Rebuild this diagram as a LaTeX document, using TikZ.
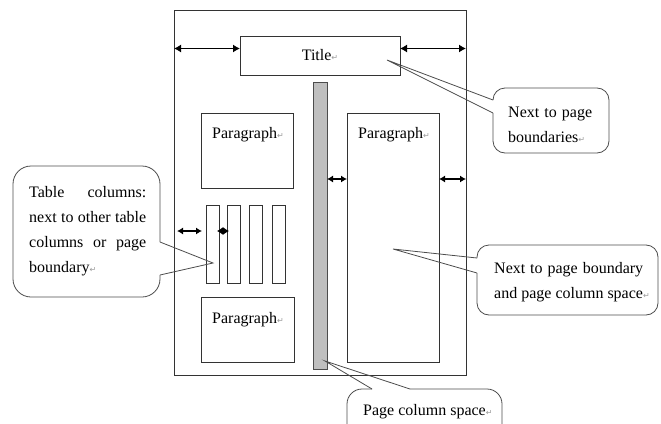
\documentclass[tikz,border=0pt]{standalone}
\usepackage{fontspec}
\setmainfont{Liberation Serif}
\newfontfamily\marksymfont{DejaVu Sans}
\usetikzlibrary{arrows.meta}
% small grey paragraph mark
\newcommand{\pmark}{{\marksymfont\fontsize{8}{8}\selectfont\textcolor{black!40}{↵}}}

\begin{document}
\begin{tikzpicture}[x=1pt,y=-1pt,
  every node/.style={font=\fontsize{16}{25}\selectfont},
  frame/.style={draw=black!80, line width=0.9pt, inner sep=0pt, outer sep=0pt, anchor=north west},
  bar/.style={frame, fill=black!25, draw=black!70},
  label/.style={anchor=base west, inner sep=0pt},
  body/.style={inner sep=0pt, outer sep=0pt, anchor=north west},
  callout/.style={draw=black!70, line width=0.8pt, line join=miter},
  dim/.style={{Latex[length=7pt,width=8pt]}-{Latex[length=7pt,width=8pt]}, line width=1.2pt, black},
  dimsmall/.style={{Latex[length=6pt,width=7pt]}-{Latex[length=6pt,width=7pt]}, line width=1.1pt, black},
]
\useasboundingbox (0,0) rectangle (661,423);
\clip (0,0) rectangle (661,423);

% page and its blocks
\node[frame, minimum width=292pt, minimum height=365pt] (page) at (174,10) {};
\node[frame, minimum width=160pt, minimum height=39pt] (title) at (240,36) {};
\node at (title.center) {Title\pmark};
\node[bar, minimum width=14pt, minimum height=287pt] (gap) at (313,82) {};

\node[frame, minimum width=92pt, minimum height=75pt] (para1) at (201,113) {};
\node[frame, minimum width=92pt, minimum height=249pt] (para2) at (347,113) {};
\node[frame, minimum width=93pt, minimum height=65pt] (para3) at (201,297) {};
\node[label] at ([shift={(11,25)}]para1.north west) {Paragraph\pmark};
\node[label] at ([shift={(11,25)}]para2.north west) {Paragraph\pmark};
\node[label] at ([shift={(11,26)}]para3.north west) {Paragraph\pmark};

% table columns
\foreach \i/\x in {1/206, 2/227, 3/249, 4/272}
  \node[frame, minimum width=13pt, minimum height=78pt] (col\i) at (\x,205) {};

% spacing arrows
\draw[dim] ([yshift=7pt]title.west -| page.west) -- ([yshift=7pt]title.west);
\draw[dim] ([yshift=7pt]title.east) -- ([yshift=7pt]title.east -| page.east);
\coordinate (rowA) at (0,179);
\draw[dimsmall] (gap.east |- rowA) -- (para2.west |- rowA);
\draw[dimsmall] (para2.east |- rowA) -- (page.east |- rowA);
\coordinate (rowB) at (0,231);
\draw[dimsmall, shorten <=3pt, shorten >=4pt] (page.west |- rowB) -- (col1.west |- rowB);
\draw[{Latex[length=6pt,width=8pt]}-{Latex[length=6pt,width=8pt]}, line width=1pt]
  ([xshift=-2pt]col1.east |- rowB) -- ([xshift=2pt]col2.west |- rowB);

% callout: page boundaries of the title
\node[body, minimum width=116pt, minimum height=65pt] (c1) at (493,88) {};
\node[label] at (508,117) {\vtop{\hbox to 84pt{Next\hfill to\hfill page}\hbox{boundaries\pmark}}};
\coordinate (c1tip) at (387,60);
\coordinate (c1a) at ([shift={(0,12)}]c1.north west);
\coordinate (c1b) at ([shift={(0,25)}]c1.north west);
\draw[callout, rounded corners=12pt] (c1a) -- (c1.north west) -- (c1.north east)
  -- (c1.south east) -- (c1.south west) -- (c1b);
\draw[callout] (c1b) -- (c1tip) -- (c1a);

% callout: table columns
\node[body, minimum width=147pt, minimum height=131pt] (c2) at (13,166) {};
\node[label] at (29,197) {\vtop{%
  \hbox to 117pt{Table\hfill columns:}%
  \hbox to 117pt{next\hfill to\hfill other\hfill table}%
  \hbox to 117pt{columns\hfill or\hfill page}%
  \hbox{boundary\pmark}}};
\coordinate (c2tip) at (213,263);
\coordinate (c2a) at ([shift={(0,76)}]c2.north east);
\coordinate (c2b) at ([shift={(0,109)}]c2.north east);
\draw[callout, rounded corners=18pt] (c2a) -- (c2.north east) -- (c2.north west)
  -- (c2.south west) -- (c2.south east) -- (c2b);
\draw[callout] (c2b) -- (c2tip) -- (c2a);

% callout: page boundary and page column space
\node[body, minimum width=181pt, minimum height=70pt] (c3) at (477,245) {};
\node[label] at (494,273) {\vtop{%
  \hbox to 149pt{Next\hfill to\hfill page\hfill boundary}%
  \hbox{and page column space\pmark}}};
\coordinate (c3tip) at (393,249);
\coordinate (c3a) at ([shift={(0,13)}]c3.north west);
\coordinate (c3b) at ([shift={(0,28)}]c3.north west);
\draw[callout, rounded corners=12pt] (c3a) -- (c3.north west) -- (c3.north east)
  -- (c3.south east) -- (c3.south west) -- (c3b);
\draw[callout] (c3b) -- (c3tip) -- (c3a);

% callout: page column space
\node[body, minimum width=155pt, minimum height=60pt] (c4) at (347,389) {};
\node[label] at (363,415) {Page column space\pmark};
\coordinate (c4tip) at (325,361);
\coordinate (c4a) at ([shift={(63,0)}]c4.north west);
\coordinate (c4b) at ([shift={(25,0)}]c4.north west);
\draw[callout, rounded corners=15pt] (c4a) -- (c4.north east) -- (c4.south east)
  -- (c4.south west) -- (c4.north west) -- (c4b);
\draw[callout] (c4b) -- (c4tip) -- (c4a);
\end{tikzpicture}
\end{document}
